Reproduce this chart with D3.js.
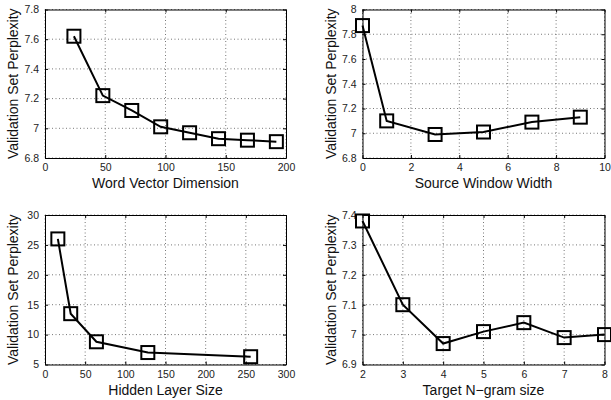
<!DOCTYPE html>
<html>
<head>
<meta charset="utf-8">
<script src="https://cdn.jsdelivr.net/npm/d3@7"></script>
<style>
  body { margin: 0; background: #fff; }
  svg { font-family: "Liberation Sans", Arial, sans-serif; }
</style>
</head>
<body>
<div id="chart"></div>
<script>
// panel 1: word vector dimension
var wordDim = [24, 48, 72, 96, 120, 144, 168, 192];
var wordPpl = [7.62, 7.22, 7.12, 7.01, 6.97, 6.93, 6.92, 6.91];
// panel 2: source window width
var srcWin = [0, 1, 3, 5, 7, 9];
var srcPpl = [7.87, 7.10, 6.99, 7.01, 7.09, 7.13];
// panel 3: hidden layer size
var hidSize = [16, 32, 64, 128, 256];
var hidPpl = [26.0, 13.5, 8.8, 7.0, 6.3];
// panel 4: target n-gram size
var ngram = [2, 3, 4, 5, 6, 7, 8];
var ngramPpl = [7.38, 7.10, 6.97, 7.01, 7.04, 6.99, 7.00];

var yTitle = "Validation Set Perplexity";

var W = 611, H = 400;
var svg = d3.select("#chart").append("svg")
    .attr("width", W)
    .attr("height", H);

var fmt = function(d) { return String(+d.toFixed(2)); };

function drawPanel(box, xs, ys, xDom, xTicks, yDom, yTicks, xTitle, yTitleX) {
    var x = d3.scaleLinear().domain(xDom).range([box.left, box.right]);
    var y = d3.scaleLinear().domain(yDom).range([box.bottom, box.top]);
    var g = svg.append("g");

    // dotted grid
    g.selectAll(".gx").data(xTicks).enter().append("line")
        .attr("x1", d => x(d)).attr("x2", d => x(d))
        .attr("y1", box.top).attr("y2", box.bottom)
        .attr("stroke", "#777").attr("stroke-width", 1)
        .attr("stroke-dasharray", "1,2.5");
    g.selectAll(".gy").data(yTicks).enter().append("line")
        .attr("y1", d => y(d)).attr("y2", d => y(d))
        .attr("x1", box.left).attr("x2", box.right)
        .attr("stroke", "#777").attr("stroke-width", 1)
        .attr("stroke-dasharray", "1,2.5");

    // axes with inward ticks on all four sides
    var xb = g.append("g").attr("transform", "translate(0," + box.bottom + ")")
        .call(d3.axisBottom(x).tickValues(xTicks).tickSizeInner(-3).tickSizeOuter(0).tickPadding(6).tickFormat(fmt));
    var xt = g.append("g").attr("transform", "translate(0," + box.top + ")")
        .call(d3.axisTop(x).tickValues(xTicks).tickSizeInner(-3).tickSizeOuter(0).tickFormat(""));
    var yl = g.append("g").attr("transform", "translate(" + box.left + ",0)")
        .call(d3.axisLeft(y).tickValues(yTicks).tickSizeInner(-3).tickSizeOuter(0).tickPadding(6).tickFormat(fmt));
    var yr = g.append("g").attr("transform", "translate(" + box.right + ",0)")
        .call(d3.axisRight(y).tickValues(yTicks).tickSizeInner(-3).tickSizeOuter(0).tickFormat(""));
    [xb, xt, yl, yr].forEach(function(a) {
        a.selectAll(".domain").attr("stroke", "#000").attr("stroke-width", 1);
        a.selectAll(".tick line").attr("stroke", "#000");
        a.selectAll("text").attr("font-size", 10.5).attr("fill", "#222");
    });

    // axis titles
    g.append("text")
        .attr("x", (box.left + box.right) / 2)
        .attr("y", box.bottom + 30)
        .attr("text-anchor", "middle")
        .attr("font-size", 14)
        .attr("fill", "#111")
        .text(xTitle);
    g.append("text")
        .attr("transform", "translate(" + yTitleX + "," + (box.top + box.bottom) / 2 + ") rotate(-90)")
        .attr("text-anchor", "middle")
        .attr("font-size", 14)
        .attr("fill", "#111")
        .text(yTitle);

    var pts = xs.map(function(d, i) { return [d, ys[i]]; });
    var line = d3.line().x(d => x(d[0])).y(d => y(d[1]));
    g.append("path")
        .attr("d", line(pts))
        .attr("fill", "none")
        .attr("stroke", "#000")
        .attr("stroke-width", 2);

    var s = 13;
    g.selectAll(".mk").data(pts).enter().append("rect")
        .attr("x", d => x(d[0]) - s / 2)
        .attr("y", d => y(d[1]) - s / 2)
        .attr("width", s).attr("height", s)
        .attr("fill", "none")
        .attr("stroke", "#000")
        .attr("stroke-width", 2);
}

drawPanel({left: 45, right: 286, top: 9.5, bottom: 158}, wordDim, wordPpl,
    [0, 200], [0, 50, 100, 150, 200], [6.8, 7.8], [6.8, 7, 7.2, 7.4, 7.6, 7.8],
    "Word Vector Dimension", 18);

drawPanel({left: 362.5, right: 604.5, top: 9.5, bottom: 158}, srcWin, srcPpl,
    [0, 10], [0, 2, 4, 6, 8, 10], [6.8, 8], [6.8, 7, 7.2, 7.4, 7.6, 7.8, 8],
    "Source Window Width", 336);

drawPanel({left: 45, right: 286, top: 215, bottom: 364.5}, hidSize, hidPpl,
    [0, 300], [0, 50, 100, 150, 200, 250, 300], [5, 30], [5, 10, 15, 20, 25, 30],
    "Hidden Layer Size", 18);

drawPanel({left: 362.5, right: 604.5, top: 215, bottom: 364.5}, ngram, ngramPpl,
    [2, 8], [2, 3, 4, 5, 6, 7, 8], [6.9, 7.4], [6.9, 7, 7.1, 7.2, 7.3, 7.4],
    "Target N\u2212gram size", 336);
</script>
</body>
</html>
